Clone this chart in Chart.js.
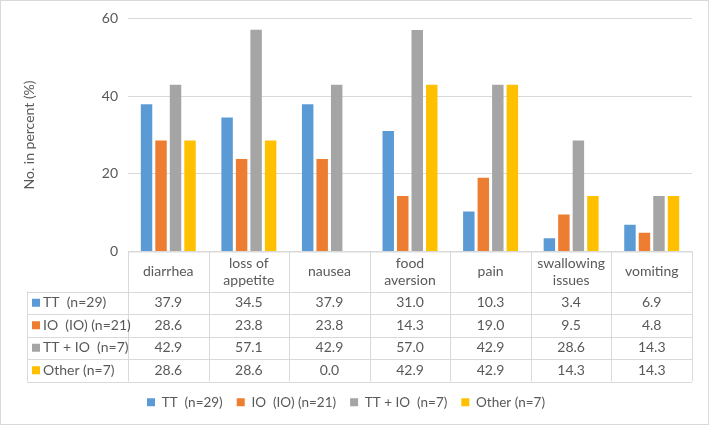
<!DOCTYPE html>
<html>
<head>
<meta charset="utf-8">
<script src="https://cdn.jsdelivr.net/npm/chart.js@4.4.0/dist/chart.umd.min.js"></script>
<style>
  html, body { margin: 0; padding: 0; background: #fff; }
  #wrap { width: 709px; height: 425px; }
</style>
</head>
<body>
<div id="wrap"><canvas id="myChart" width="709" height="425"></canvas></div>
<script>
// data
const categories = ["diarrhea", ["loss of", "appetite"], "nausea", ["food", "aversion"], "pain", ["swallowing", "issues"], "vomiting"];
const seriesNames = ["TT  (n=29)", "IO  (IO) (n=21)", "TT + IO  (n=7)", "Other (n=7)"];
const ttValues = [37.9, 34.5, 37.9, 31.0, 10.3, 3.4, 6.9];
const ioValues = [28.6, 23.8, 23.8, 14.3, 19.0, 9.5, 4.8];
const ttIoValues = [42.9, 57.1, 42.9, 57.0, 42.9, 28.6, 14.3];
const otherValues = [28.6, 28.6, 0.0, 42.9, 42.9, 14.3, 14.3];
const yTicks = [0, 20, 40, 60];

const colors = ["#5B9BD5", "#ED7D31", "#A5A5A5", "#FFC000"];
const textColor = "#595959";
const lineColor = "#D9D9D9";
const fontFamily = "Lato, 'Noto Sans', sans-serif";

// draws white background + outer frame
const frame = {
  id: "frame",
  beforeDraw(chart) {
    let ctx = chart.ctx;
    ctx.save();
    ctx.fillStyle = "#fff";
    ctx.fillRect(0, 0, chart.width, chart.height);
    ctx.strokeStyle = lineColor;
    ctx.lineWidth = 1;
    ctx.strokeRect(0.5, 0.5, chart.width - 1, chart.height - 1);
    ctx.restore();
  },
};

// data table under the plot
const dataTable = {
  id: "dataTable",
  afterDraw(chart) {
    let ctx = chart.ctx;
    let xs = chart.scales.x;
    let area = chart.chartArea;
    let n = categories.length;
    let colW = (area.right - area.left) / n;
    let top = area.bottom;
    let headH = 40;
    let rowH = 22.5;
    let bottom = top + headH + rowH * 4;
    let leftCol = 27;

    ctx.save();
    ctx.strokeStyle = lineColor;
    ctx.lineWidth = 1;
    ctx.beginPath();
    // horizontal lines
    ctx.moveTo(area.left, top + 0.5);
    ctx.lineTo(area.right, top + 0.5);
    for (let r = 0; r <= 4; r++) {
      let y = Math.round(top + headH + rowH * r) + 0.5;
      ctx.moveTo(leftCol, y);
      ctx.lineTo(area.right, y);
    }
    // vertical lines
    for (let c = 0; c <= n; c++) {
      let x = Math.round(area.left + colW * c) + 0.5;
      ctx.moveTo(x, top);
      ctx.lineTo(x, bottom);
    }
    ctx.moveTo(leftCol + 0.5, top + headH);
    ctx.lineTo(leftCol + 0.5, bottom);
    ctx.stroke();

    ctx.fillStyle = textColor;
    ctx.font = "14px " + fontFamily;
    ctx.textAlign = "center";
    ctx.textBaseline = "middle";
    // header
    for (let i = 0; i < n; i++) {
      let cx = xs.getPixelForValue(i);
      let lab = Array.isArray(categories[i]) ? categories[i] : [categories[i]];
      let cy = top + headH / 2;
      for (let k = 0; k < lab.length; k++) {
        ctx.fillText(lab[k], cx, cy + (k - (lab.length - 1) / 2) * 17);
      }
    }
    // rows
    let all = [ttValues, ioValues, ttIoValues, otherValues];
    for (let r = 0; r < 4; r++) {
      let cy = top + headH + rowH * r + rowH / 2;
      ctx.textAlign = "center";
      ctx.fillStyle = textColor;
      for (let i = 0; i < n; i++) {
        ctx.fillText(all[r][i].toFixed(1), xs.getPixelForValue(i), cy);
      }
      ctx.fillStyle = colors[r];
      ctx.fillRect(leftCol + 5, cy - 4, 8, 8);
      ctx.fillStyle = textColor;
      ctx.textAlign = "left";
      ctx.fillText(seriesNames[r], leftCol + 16, cy);
    }
    ctx.restore();
  },
};

const ctx = document.getElementById("myChart");

new Chart(ctx, {
  type: "bar",
  data: {
    labels: categories,
    datasets: [
      { label: seriesNames[0], data: ttValues, backgroundColor: colors[0] },
      { label: seriesNames[1], data: ioValues, backgroundColor: colors[1] },
      { label: seriesNames[2], data: ttIoValues, backgroundColor: colors[2] },
      { label: seriesNames[3], data: otherValues, backgroundColor: colors[3] },
    ],
  },
  options: {
    responsive: false,
    animation: false,
    categoryPercentage: 0.72,
    barPercentage: 0.79,
    layout: { padding: { top: 17, right: 17, left: 0, bottom: 6 } },
    plugins: {
      tooltip: { enabled: false },
      legend: {
        position: "bottom",
        labels: {
          color: textColor,
          font: { family: fontFamily, size: 13.5 },
          boxWidth: 8,
          boxHeight: 8,
          padding: 14,
        },
      },
    },
    scales: {
      x: {
        grid: { display: false },
        border: { display: false },
        ticks: { display: false },
        afterFit: (scale) => { scale.height = 130; },
      },
      y: {
        min: yTicks[0],
        max: yTicks[yTicks.length - 1],
        afterBuildTicks: (scale) => { scale.ticks = yTicks.map((v) => ({ value: v })); },
        afterFit: (scale) => { scale.width = 128; },
        grid: { color: lineColor, drawTicks: false },
        border: { display: false },
        ticks: {
          color: textColor,
          font: { family: fontFamily, size: 14 },
          padding: 10,
        },
        title: {
          display: true,
          text: "No. in percent (%)",
          color: textColor,
          font: { family: fontFamily, size: 14 },
          padding: { top: 21, bottom: 0 },
        },
      },
    },
  },
  plugins: [frame, dataTable],
});
</script>
</body>
</html>
